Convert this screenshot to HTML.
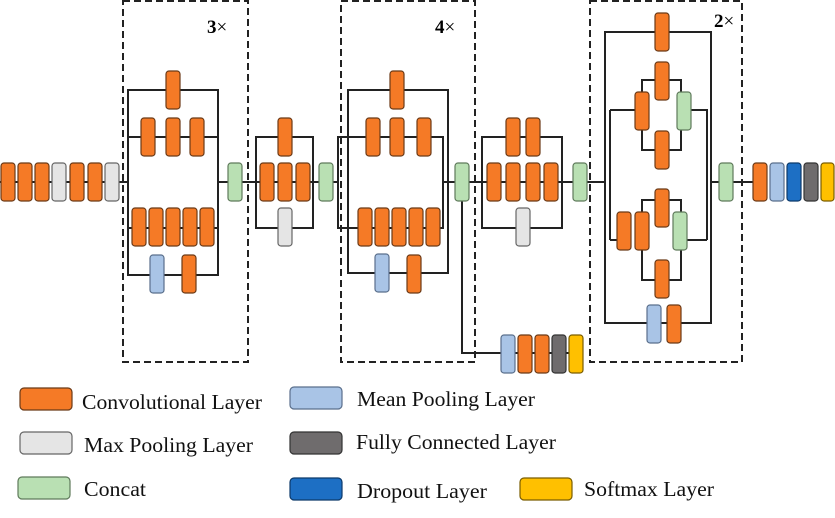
<!DOCTYPE html>
<html><head><meta charset="utf-8"><style>html,body{margin:0;padding:0;background:#fff}svg{display:block}</style></head>
<body>
<svg width="835" height="518" viewBox="0 0 835 518" xmlns="http://www.w3.org/2000/svg" font-family="Liberation Serif, serif">
<defs>
<style>
.l{stroke:#222;stroke-width:2;fill:none}
.d{stroke:#222;stroke-width:2;fill:none;stroke-dasharray:7,4}
.o{fill:#f57a26;stroke:#6b3a17;stroke-width:1.2}
.g{fill:#e5e5e5;stroke:#666;stroke-width:1.2}
.c{fill:#b9e0b3;stroke:#5f7a5b;stroke-width:1.2}
.b{fill:#a9c4e6;stroke:#5a6f8c;stroke-width:1.2}
.k{fill:#6f6c6d;stroke:#333;stroke-width:1.2}
.u{fill:#1d6fc4;stroke:#0d3a6a;stroke-width:1.2}
.y{fill:#ffc000;stroke:#7a5d00;stroke-width:1.2}
</style>
</defs>
<rect class="d" x="123" y="1" width="125" height="361"/>
<rect class="d" x="341" y="1" width="134" height="361"/>
<rect class="d" x="590" y="1" width="152" height="361"/>
<text x="207" y="33" font-size="19" font-weight="bold">3<tspan font-weight="normal">×</tspan></text>
<text x="435" y="33" font-size="19" font-weight="bold">4<tspan font-weight="normal">×</tspan></text>
<text x="714" y="27" font-size="19" font-weight="bold">2<tspan font-weight="normal">×</tspan></text>

<path class="l" d="M0 182H128M218 182H256M313 182H338M443 182H482M562 182H605M711 182H753M462 182V353H502M502 353H583"/>
<path class="l" d="M128 90H218V275H128ZM128 137H218M128 228H218"/>
<path class="l" d="M256 137H313V228H256Z"/>
<path class="l" d="M348 90H448V273H348ZM338 137H443V228H338Z"/>
<path class="l" d="M482 137H562V228H482ZM482 182H562"/>
<path class="l" d="M256 182H313"/>
<path class="l" d="M605 32H711V323H605ZM610 110V240M610 110H635M691 110H707V240M610 240H617M687 240H707M642 80H681V150H642ZM642 200H681V280H642Z"/>

<g>
<rect class="o" x="1" y="163" width="14" height="38" rx="3"/>
<rect class="o" x="18" y="163" width="14" height="38" rx="3"/>
<rect class="o" x="35" y="163" width="14" height="38" rx="3"/>
<rect class="g" x="52" y="163" width="14" height="38" rx="3"/>
<rect class="o" x="70" y="163" width="14" height="38" rx="3"/>
<rect class="o" x="88" y="163" width="14" height="38" rx="3"/>
<rect class="g" x="105" y="163" width="14" height="38" rx="3"/>
<rect class="o" x="166" y="71" width="14" height="38" rx="3"/>
<rect class="o" x="141" y="118" width="14" height="38" rx="3"/>
<rect class="o" x="166" y="118" width="14" height="38" rx="3"/>
<rect class="o" x="190" y="118" width="14" height="38" rx="3"/>
<rect class="o" x="132" y="208" width="14" height="38" rx="3"/>
<rect class="o" x="149" y="208" width="14" height="38" rx="3"/>
<rect class="o" x="166" y="208" width="14" height="38" rx="3"/>
<rect class="o" x="183" y="208" width="14" height="38" rx="3"/>
<rect class="o" x="200" y="208" width="14" height="38" rx="3"/>
<rect class="b" x="150" y="255" width="14" height="38" rx="3"/>
<rect class="o" x="182" y="255" width="14" height="38" rx="3"/>
<rect class="c" x="228" y="163" width="14" height="38" rx="3"/>
<rect class="o" x="278" y="118" width="14" height="38" rx="3"/>
<rect class="o" x="260" y="163" width="14" height="38" rx="3"/>
<rect class="o" x="278" y="163" width="14" height="38" rx="3"/>
<rect class="o" x="296" y="163" width="14" height="38" rx="3"/>
<rect class="g" x="278" y="208" width="14" height="38" rx="3"/>
<rect class="c" x="319" y="163" width="14" height="38" rx="3"/>
<rect class="o" x="390" y="71" width="14" height="38" rx="3"/>
<rect class="o" x="366" y="118" width="14" height="38" rx="3"/>
<rect class="o" x="390" y="118" width="14" height="38" rx="3"/>
<rect class="o" x="417" y="118" width="14" height="38" rx="3"/>
<rect class="o" x="358" y="208" width="14" height="38" rx="3"/>
<rect class="o" x="375" y="208" width="14" height="38" rx="3"/>
<rect class="o" x="392" y="208" width="14" height="38" rx="3"/>
<rect class="o" x="409" y="208" width="14" height="38" rx="3"/>
<rect class="o" x="426" y="208" width="14" height="38" rx="3"/>
<rect class="b" x="375" y="254" width="14" height="38" rx="3"/>
<rect class="o" x="407" y="255" width="14" height="38" rx="3"/>
<rect class="c" x="455" y="163" width="14" height="38" rx="3"/>
<rect class="b" x="501" y="335" width="14" height="38" rx="3"/>
<rect class="o" x="518" y="335" width="14" height="38" rx="3"/>
<rect class="o" x="535" y="335" width="14" height="38" rx="3"/>
<rect class="k" x="552" y="335" width="14" height="38" rx="3"/>
<rect class="y" x="569" y="335" width="14" height="38" rx="3"/>
<rect class="o" x="506" y="118" width="14" height="38" rx="3"/>
<rect class="o" x="526" y="118" width="14" height="38" rx="3"/>
<rect class="o" x="487" y="163" width="14" height="38" rx="3"/>
<rect class="o" x="506" y="163" width="14" height="38" rx="3"/>
<rect class="o" x="526" y="163" width="14" height="38" rx="3"/>
<rect class="o" x="544" y="163" width="14" height="38" rx="3"/>
<rect class="g" x="516" y="208" width="14" height="38" rx="3"/>
<rect class="c" x="573" y="163" width="14" height="38" rx="3"/>
<rect class="o" x="655" y="13" width="14" height="38" rx="3"/>
<rect class="o" x="655" y="62" width="14" height="38" rx="3"/>
<rect class="o" x="635" y="92" width="14" height="38" rx="3"/>
<rect class="c" x="677" y="92" width="14" height="38" rx="3"/>
<rect class="o" x="655" y="131" width="14" height="38" rx="3"/>
<rect class="o" x="655" y="189" width="14" height="38" rx="3"/>
<rect class="o" x="617" y="212" width="14" height="38" rx="3"/>
<rect class="o" x="635" y="212" width="14" height="38" rx="3"/>
<rect class="c" x="673" y="212" width="14" height="38" rx="3"/>
<rect class="o" x="655" y="260" width="14" height="38" rx="3"/>
<rect class="b" x="647" y="305" width="14" height="38" rx="3"/>
<rect class="o" x="667" y="305" width="14" height="38" rx="3"/>
<rect class="c" x="719" y="163" width="14" height="38" rx="3"/>
<rect class="o" x="753" y="163" width="14" height="38" rx="3"/>
<rect class="b" x="770" y="163" width="14" height="38" rx="3"/>
<rect class="u" x="787" y="163" width="14" height="38" rx="3"/>
<rect class="k" x="804" y="163" width="14" height="38" rx="3"/>
<rect class="y" x="821" y="163" width="13" height="38" rx="3"/>
</g>

<g font-size="21" fill="#111">
<rect class="o" x="20" y="388" width="52" height="22" rx="4"/>
<text x="82" y="409" textLength="180" lengthAdjust="spacingAndGlyphs">Convolutional Layer</text>
<rect class="b" x="290" y="387" width="52" height="22" rx="4"/>
<text x="357" y="406" textLength="178" lengthAdjust="spacingAndGlyphs">Mean Pooling Layer</text>
<rect class="g" x="20" y="432" width="52" height="22" rx="4"/>
<text x="84" y="452" textLength="169" lengthAdjust="spacingAndGlyphs">Max Pooling Layer</text>
<rect class="k" x="290" y="432" width="52" height="22" rx="4"/>
<text x="356" y="449" textLength="200" lengthAdjust="spacingAndGlyphs">Fully Connected Layer</text>
<rect class="c" x="18" y="477" width="52" height="22" rx="4"/>
<text x="84" y="496" textLength="62" lengthAdjust="spacingAndGlyphs">Concat</text>
<rect class="u" x="290" y="478" width="52" height="22" rx="4"/>
<text x="357" y="498" textLength="130" lengthAdjust="spacingAndGlyphs">Dropout Layer</text>
<rect class="y" x="520" y="478" width="52" height="22" rx="4"/>
<text x="584" y="496" textLength="130" lengthAdjust="spacingAndGlyphs">Softmax Layer</text>
</g>
</svg>
</body></html>
